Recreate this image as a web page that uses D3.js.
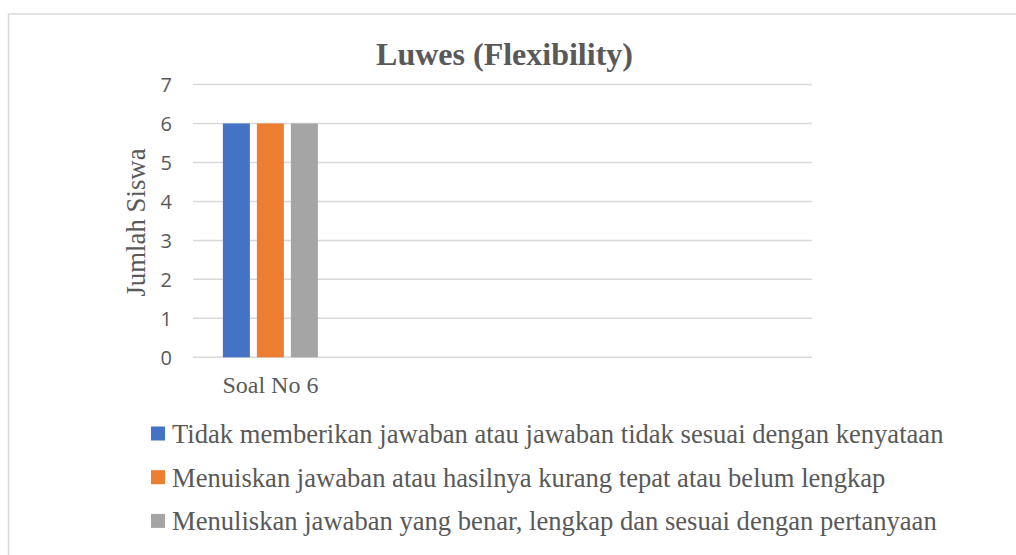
<!DOCTYPE html>
<html>
<head>
<meta charset="utf-8">
<script src="https://cdn.jsdelivr.net/npm/d3@7.9.0/dist/d3.min.js"></script>
<style>
  html, body { margin: 0; padding: 0; background: #fff; }
  svg { display: block; }
</style>
</head>
<body>
<div id="viz"></div>
<script>
// chart data
const chartTitle = "Luwes (Flexibility)";
const yTitle = "Jumlah Siswa";
const categories = ["Soal No 6", "", "", ""];
const seriesNames = [
  "Tidak memberikan jawaban atau jawaban tidak sesuai dengan kenyataan",
  "Menuiskan jawaban atau hasilnya kurang tepat atau belum lengkap",
  "Menuliskan jawaban yang benar, lengkap dan sesuai dengan pertanyaan"
];
const seriesValues = [
  [6, null, null, null],
  [6, null, null, null],
  [6, null, null, null]
];
const yTicks = [0, 1, 2, 3, 4, 5, 6, 7];
const colors = ["#4472c4", "#ed7d31", "#a5a5a5"];

const width = 1016;
const height = 555;
const serif = "'Liberation Serif', 'Times New Roman', serif";
const sans = "'Open Sans', 'Noto Sans', sans-serif";
const textColor = "#595959";
const gridColor = "#d9d9d9";

const svg = d3.select("#viz")
  .append("svg")
  .attr("width", width)
  .attr("height", height);

// outer frame
svg.append("rect")
  .attr("x", 8.5)
  .attr("y", 14)
  .attr("width", width)
  .attr("height", height)
  .attr("fill", "none")
  .attr("stroke", gridColor)
  .attr("stroke-width", 1.5);

const plot = { left: 193, right: 812, top: 84.5, bottom: 357.3 };

const x0 = d3.scaleBand()
  .domain(d3.range(categories.length))
  .range([plot.left, plot.right]);

const x1 = d3.scaleBand()
  .domain(d3.range(seriesNames.length))
  .range([0, x0.bandwidth()])
  .paddingInner(0.206)
  .paddingOuter(0.879);

const y = d3.scaleLinear()
  .domain([0, 7])
  .range([plot.bottom, plot.top]);

// gridlines
svg.append("g")
  .selectAll("line")
  .data(yTicks)
  .join("line")
  .attr("x1", plot.left)
  .attr("x2", plot.right)
  .attr("y1", d => y(d))
  .attr("y2", d => y(d))
  .attr("stroke", gridColor)
  .attr("stroke-width", 1.5);

// y tick labels
svg.append("g")
  .selectAll("text")
  .data(yTicks)
  .join("text")
  .attr("x", 172)
  .attr("y", d => y(d))
  .attr("dy", "0.36em")
  .attr("text-anchor", "end")
  .attr("font-family", sans)
  .attr("font-size", "20px")
  .attr("fill", textColor)
  .text(d => d);

// bars
const barData = [];
seriesValues.forEach((vals, s) => {
  vals.forEach((v, c) => {
    if (v != null) barData.push({ s, c, v });
  });
});

svg.append("g")
  .selectAll("rect")
  .data(barData)
  .join("rect")
  .attr("x", d => x0(d.c) + x1(d.s))
  .attr("y", d => y(d.v))
  .attr("width", x1.bandwidth())
  .attr("height", d => y(0) - y(d.v))
  .attr("fill", d => colors[d.s]);

// category labels
svg.append("g")
  .selectAll("text")
  .data(categories.map((c, i) => ({ c, i })))
  .join("text")
  .attr("x", d => x0(d.i) + x0.bandwidth() / 2)
  .attr("y", 393)
  .attr("text-anchor", "middle")
  .attr("font-family", serif)
  .attr("font-size", "24px")
  .attr("fill", textColor)
  .text(d => d.c);

// title
svg.append("text")
  .attr("x", 504.5)
  .attr("y", 64.5)
  .attr("text-anchor", "middle")
  .attr("font-family", serif)
  .attr("font-weight", "bold")
  .attr("font-size", "32px")
  .attr("fill", textColor)
  .text(chartTitle);

// y axis title
svg.append("text")
  .attr("transform", "translate(145,222.5) rotate(-90)")
  .attr("text-anchor", "middle")
  .attr("font-family", serif)
  .attr("font-size", "26.8px")
  .attr("fill", textColor)
  .text(yTitle);

// legend
const legend = svg.append("g")
  .selectAll("g")
  .data(seriesNames)
  .join("g")
  .attr("transform", (d, i) => `translate(151,${443 + i * 43.7})`);

legend.append("rect")
  .attr("x", 0)
  .attr("y", -16.5)
  .attr("width", 14)
  .attr("height", 14)
  .attr("fill", (d, i) => colors[i]);

legend.append("text")
  .attr("x", 21)
  .attr("y", 0)
  .attr("font-family", serif)
  .attr("font-size", "26.6px")
  .attr("fill", textColor)
  .text(d => d);
</script>
</body>
</html>
